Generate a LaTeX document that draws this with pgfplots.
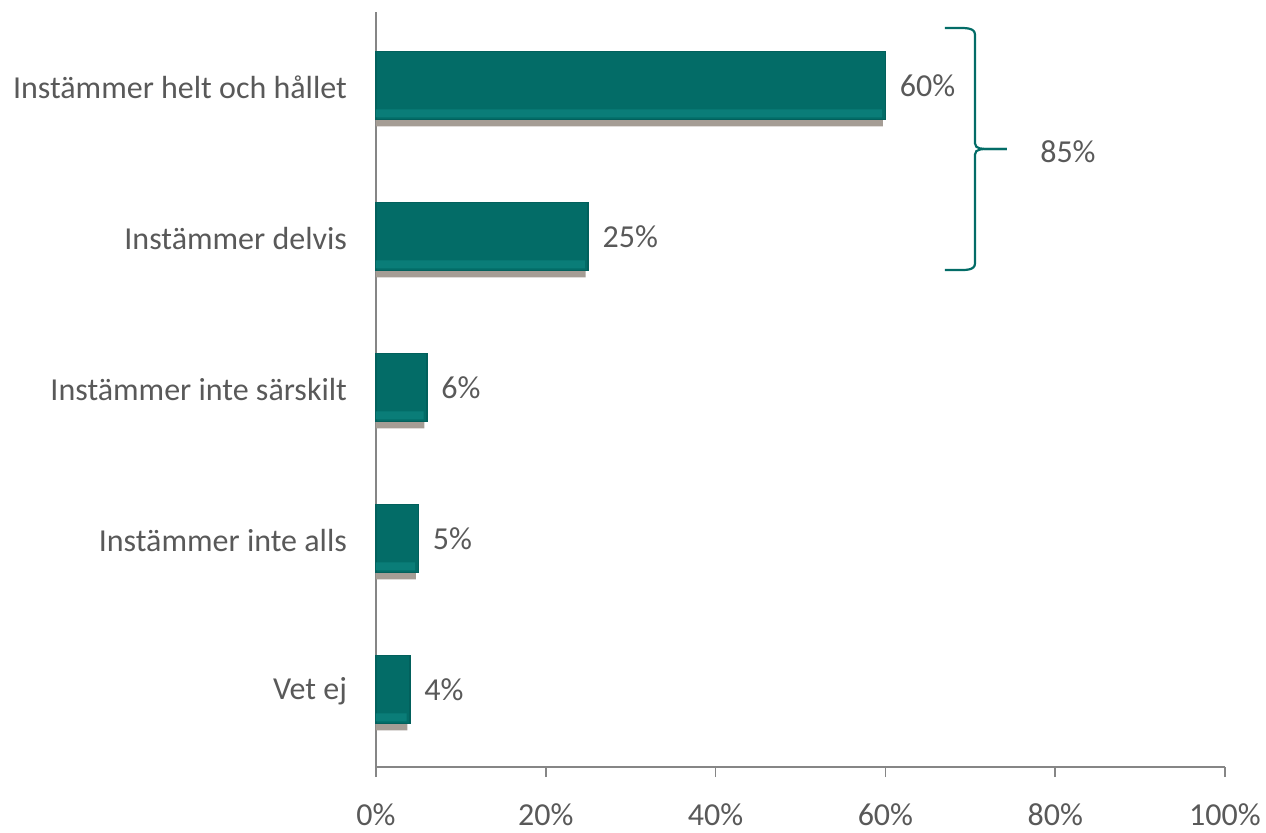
\documentclass[border=0pt]{standalone}
\usepackage{pgfplots}
\pgfplotsset{compat=1.18}
\usepackage{fontspec}
\setmainfont{Carlito}
\definecolor{barteal}{HTML}{036C67}
\definecolor{barlight}{HTML}{0A7D78}
\definecolor{baredge}{HTML}{02605C}
\definecolor{shadowcol}{HTML}{A59D95}
\definecolor{txt}{HTML}{595959}
\definecolor{axgray}{HTML}{868686}
\begin{document}
\begin{tikzpicture}
\begin{axis}[
  name=ax,
  scale only axis,
  width=424.5pt, height=377.5pt,
  xmin=0, xmax=100, ymin=-0.5, ymax=4.5,
  axis x line*=bottom, axis y line*=left,
  axis line style={axgray, line width=0.8pt},
  tick align=outside,
  tick style={axgray, line width=0.8pt},
  xtick={0,20,40,60,80,100},
  xticklabels={0\%,20\%,40\%,60\%,80\%,100\%},
  major tick length=5pt,
  ytick={0,1,2,3,4},
  yticklabels={Vet ej,Instämmer inte alls,Instämmer inte särskilt,Instämmer delvis,Instämmer helt och hållet},
  minor ytick={-0.5,0.5,1.5,2.5,3.5,4.5},
  ytick style={draw=none},
  minor tick style={axgray, line width=0.8pt, draw=axgray},
  minor tick length=5pt,
  ticklabel style={font=\fontsize{16}{19}\selectfont, text=txt},
  yticklabel style={xshift=-6pt},
  xticklabel style={yshift=-10pt},
  xbar, bar width=34pt,
  clip=false,
]
% shadow
\addplot[fill=shadowcol, draw=none, bar shift=-2.5pt]
  coordinates {(59.7,4) (24.7,3) (5.7,2) (4.7,1) (3.7,0)};
% main bars
\addplot[fill=barteal, draw=baredge, line width=0.8pt, bar shift=1pt,
  nodes near coords={\pgfmathprintnumber[assume math mode=true]{\pgfplotspointmeta}\%},
  nodes near coords style={font=\fontsize{16}{19}\selectfont, text=txt, anchor=west, xshift=3.5pt}]
  coordinates {(60,4) (25,3) (6,2) (5,1) (4,0)};
% bevel highlight at bottom of bars
\addplot[fill=barlight, draw=none, bar width=4pt, bar shift=-13pt]
  coordinates {(59.6,4) (24.6,3) (5.6,2) (4.6,1) (3.6,0)};
\draw[color=barteal, line width=1.1pt]
  (axis cs:67,4.394) -- (axis cs:68.6,4.394) to[out=0,in=90] (axis cs:70.55,4.35)
  -- (axis cs:70.55,3.63) to[out=-90,in=180] (axis cs:72.2,3.593) -- (axis cs:74.3,3.593);
\draw[color=barteal, line width=1.1pt]
  (axis cs:74.3,3.593) -- (axis cs:72.2,3.593) to[out=180,in=90] (axis cs:70.55,3.556)
  -- (axis cs:70.55,2.835) to[out=-90,in=0] (axis cs:68.6,2.791) -- (axis cs:67,2.791);
\node[text=txt, font=\fontsize{16}{19}\selectfont] at (axis cs:81.5,3.573) {85\%};
\end{axis}
\pgfresetboundingbox
\path ([shift={(-188pt,-33pt)}]ax.south west) rectangle ([shift={(20.5pt,6pt)}]ax.north east);
\end{tikzpicture}
\end{document}
